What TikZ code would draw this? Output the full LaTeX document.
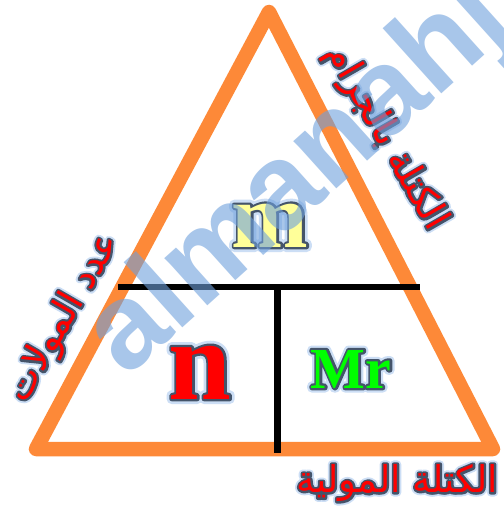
\documentclass[tikz,border=0pt]{standalone}
\usepackage{fontspec}
\setmainfont{Liberation Serif}
\newfontfamily\arabicfont[Script=Arabic]{DejaVu Sans}
\newfontfamily\wmfont{Liberation Sans}
\TeXXeTstate=1
\usetikzlibrary{calc}
\definecolor{tri}{RGB}{253,137,56}
\definecolor{outl}{RGB}{68,84,106}
\definecolor{wm}{RGB}{110,160,220}
\definecolor{glowc}{RGB}{205,222,244}
\definecolor{mfill}{RGB}{255,255,153}
\definecolor{mrfill}{RGB}{0,255,0}
\definecolor{arred}{RGB}{255,0,0}
% stroked + filled text: #1 fill colour, #2 stroke width, #3 stroke RGB (pdf), #4 text
\newcommand\strokedtext[4]{{\color{#1}\special{pdf:literal direct 2 Tr 1 j 1 J #2 w #3 RG}#4}}
% #1 fill colour, #2 glow width, #3 outline width, #4 text
\newcommand\fancy[4]{%
  \rlap{\strokedtext{glowc}{#2}{0.80 0.87 0.96}{#4}}%
  \rlap{\strokedtext{outl}{#3}{0.267 0.329 0.416}{#4}}%
  {\special{pdf:literal direct 0 Tr}\color{#1}#4}}
\begin{document}
\begin{tikzpicture}[x=1pt,y=1pt,
  txt/.style={inner sep=0pt,outer sep=0pt},
  latin/.style={txt,anchor=base,font=\bfseries},
  arab/.style={txt,anchor=center}]
\useasboundingbox (0,0) rectangle (503,-513);
\fill[white] (0,0) rectangle (503,-513);
\coordinate (A) at (269,-12);
\coordinate (B) at (36,-449);
\coordinate (C) at (493,-449);
\draw[tri,line width=14.5,line join=round] (A) -- (B) -- (C) -- cycle;
\coordinate (H1) at (118,-286.5);
\coordinate (H2) at (420,-286.5);
\coordinate (V1) at (277,-286.5);
\coordinate (V2) at (277,-453);
\draw[line width=6] (H1) -- (H2);
\draw[line width=7] (V1) -- (V2);
% letters
\node[latin] (m) at (270,-247) {\fontsize{92}{92}\selectfont\fancy{mfill}{10}{4.5}{m}};
\node[latin] (n) at (200,-399) {\fontsize{113}{113}\selectfont\fancy{red}{10}{4.5}{n}};
\node[latin] (mr) at (351,-388) {\fontsize{58}{58}\selectfont\fancy{mrfill}{9}{4.5}{Mr}};
% arabic labels
\node[arab] (bottom) at (397,-483) {\arabicfont\fontsize{37}{40}\selectfont\fancy{arred}{8}{4.2}{\beginR الكتلة المولية\endR}};
\node[arab,rotate=-60] (right) at (386,-138) {\arabicfont\fontsize{37}{40}\selectfont\fancy{arred}{8}{4.2}{\beginR الكتلة بالجرام\endR}};
\node[arab,rotate=60] (left) at (64,-318) {\arabicfont\fontsize{37}{40}\selectfont\fancy{arred}{8}{4.2}{\beginR عدد المولات\endR}};
% watermark
\node[txt,rotate=42,text=wm,opacity=0.6,font=\wmfont\bfseries\fontsize{121}{121}\selectfont] (wmk) at (300,-180) {almanahj};
\end{tikzpicture}
\end{document}
